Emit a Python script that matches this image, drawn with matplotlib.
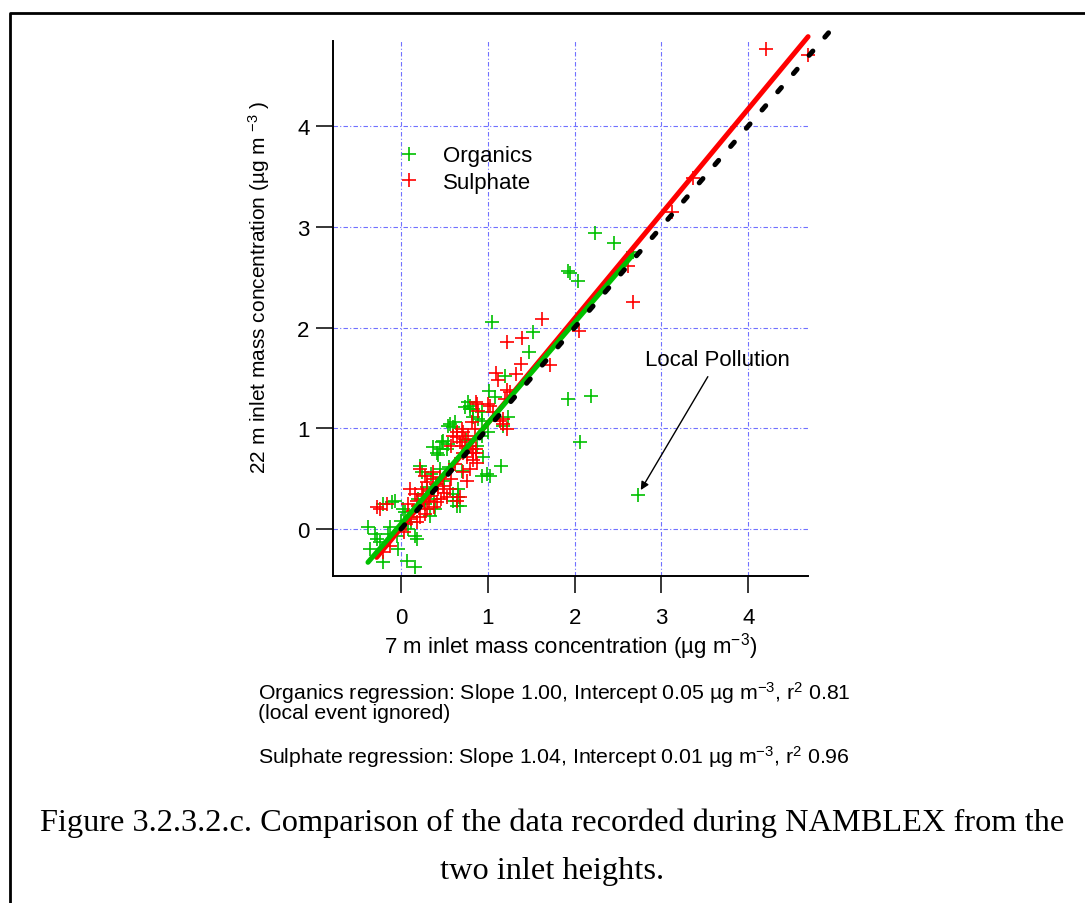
import numpy as np
import matplotlib.pyplot as plt
from matplotlib.lines import Line2D

# 7 m inlet (x) vs 22 m inlet (y), ug m-3
org_x = [2.23, 2.45, 1.92, 1.95, 2.04, 2.67, 1.05, 1.52, 1.47, 1.92, 2.19, 1.20, 2.06,
         1.01, 1.08, 0.80, 0.83, 0.77, 0.79, 0.74, 0.93, 0.89, 0.83, 0.93, 1.23, 1.18,
         0.56, 0.62, 0.54, 0.60, 1.00, 0.93, 0.48, 0.54, 0.45, 0.43, 0.94, 0.88, 1.15,
         0.93, 1.03, 0.99, 0.66, 0.60, 0.68,
         -0.38, -0.30, -0.28, -0.24, -0.21, -0.03, 0.07, 0.16, -0.10, -0.07, -0.21, 0.02,
         0.05, 0.16, 0.18, 0.08, 0.22, 0.24, 0.37, 0.41, 0.47, 0.53, 0.66, 0.64, 0.60,
         0.39, 0.33, 0.12, -0.13, -0.05, -0.36, 0.25, 0.30, 0.20, 0.35, 0.45, 0.50, 0.55,
         0.28, 0.10, 0.00, -0.15, 0.70, 0.75, 0.38, 0.43]
org_y = [2.94, 2.84, 2.56, 2.54, 2.46, 2.75, 2.06, 1.96, 1.76, 1.29, 1.32, 1.52, 0.86,
         1.37, 1.31, 1.22, 1.19, 1.26, 1.19, 1.21, 1.16, 1.09, 1.11, 1.07, 1.11, 1.02,
         1.04, 1.06, 1.02, 1.01, 0.96, 0.92, 0.87, 0.84, 0.79, 0.74, 0.72, 0.82, 0.63,
         0.53, 0.53, 0.55, 0.40, 0.35, 0.23,
         0.02, -0.05, -0.10, -0.13, -0.33, -0.20, -0.32, -0.38, 0.27, 0.28, 0.25, 0.20,
         0.17, -0.07, -0.10, 0.00, 0.63, 0.57, 0.81, 0.76, 0.86, 0.79, 0.32, 0.23, 0.28,
         0.20, 0.13, 0.07, 0.02, -0.07, -0.20, 0.35, 0.42, 0.30, 0.55, 0.60, 0.48, 0.62,
         0.25, 0.12, 0.08, -0.05, 0.58, 0.88, 0.30, 0.45]
local_x, local_y = 2.73, 0.34   # local pollution event

sul_x = [4.20, 4.69, 3.36, 3.12, 2.67, 2.61, 1.63, 1.39, 1.22, 2.05, 1.38, 1.72, 1.32,
         1.10, 1.12,
         1.22, 0.87, 1.00, 1.26, 1.20, 1.03, 1.06, 0.88, 0.89, 1.18, 1.14, 1.22, 1.18,
         0.82, 0.85, 0.72, 0.64, 0.74, 0.68, 0.80, 0.83, 0.76, 0.88, 0.60, 0.58, 0.70,
         0.77, 0.64, 0.70, 0.87,
         -0.28, -0.24, -0.16, 0.22, 0.28, 0.10, 0.16, 0.24, 0.30, 0.37, 0.43, 0.49, 0.33,
         0.26, 0.20, 0.30, 0.41, 0.53, 0.64, 0.68, 0.76, 0.72, 0.80, 0.83, 0.87, 0.82,
         0.72, 0.18, 0.12, 0.03, -0.13, -0.21, 0.28, 0.56, 0.37, 0.14, 0.22, 0.35, 0.45,
         0.50, 0.40, 0.32, 0.06, 0.25, 0.46, 0.58, 0.62, 0.18, 0.38, 0.08]
sul_y = [4.76, 4.71, 3.48, 3.15, 2.25, 2.61, 2.09, 1.90, 1.86, 1.97, 1.64, 1.63, 1.54,
         1.55, 1.48,
         1.38, 1.26, 1.24, 1.36, 1.29, 1.22, 1.16, 1.24, 1.17, 1.04, 1.07, 0.99, 1.09,
         1.06, 0.99, 0.96, 0.96, 0.89, 0.86, 0.82, 0.76, 0.72, 0.66, 0.92, 0.82, 0.99,
         0.92, 0.91, 0.82, 0.79,
         0.22, 0.20, 0.25, 0.60, 0.53, 0.40, 0.35, 0.40, 0.47, 0.50, 0.40, 0.43, 0.33,
         0.27, 0.23, 0.20, 0.27, 0.32, 0.28, 0.32, 0.48, 0.57, 0.60, 0.69, 0.76, 0.79,
         0.76, 0.07, 0.10, -0.03, -0.17, -0.23, 0.15, 0.40, 0.57, 0.18, 0.12, 0.38, 0.52,
         0.36, 0.45, 0.28, 0.05, 0.33, 0.30, 0.50, 0.65, 0.28, 0.22, 0.25]

ORG_FIT = (1.00, 0.05)   # slope, intercept (local event ignored)
SUL_FIT = (1.04, 0.01)
ONE_TO_ONE = [0, 5]

GREEN = "#00c000"
RED = "#ff0000"
GRID_C = "#7070ff"

plt.rcParams.update({
    "font.family": ["Liberation Sans", "DejaVu Sans"],
    "mathtext.fontset": "custom",
    "mathtext.rm": "Liberation Sans",
    "mathtext.it": "Liberation Sans:italic",
    "mathtext.default": "regular",
    "font.size": 16,
})

fig = plt.figure(figsize=(10.85, 9.04), dpi=100)
ax = fig.add_axes([0.3069, 0.3617, 0.4378, 0.5918])

ax.plot(org_x + [local_x], org_y + [local_y], "+", color=GREEN, ms=10, mew=1.2,
        clip_on=False, label="Organics")
ax.plot(sul_x, sul_y, "+", color=RED, ms=10, mew=1.2, clip_on=False, label="Sulphate")

sx = np.array([min(sul_x), max(sul_x)])
ax.plot(sx, SUL_FIT[0] * sx + SUL_FIT[1], color=RED, lw=3.6, solid_capstyle="round",
        clip_on=False)
ox = np.array([min(org_x), max(org_x)])
ax.plot(ox, ORG_FIT[0] * ox + ORG_FIT[1], color=GREEN, lw=3.6, solid_capstyle="round",
        clip_on=False)
ax.plot(ONE_TO_ONE, ONE_TO_ONE, color="black", lw=3.6, ls=(0, (1.14, 3.67)),
        dash_capstyle="round", clip_on=False)

ax.set_xlim(-0.783, 4.689)
ax.set_ylim(-0.466, 4.844)
ax.set_xticks([0, 1, 2, 3, 4])
ax.set_yticks([0, 1, 2, 3, 4])
ax.grid(True, color=GRID_C, lw=0.8, ls=(0, (4, 2, 1, 2)))
ax.set_axisbelow(True)
for s in ["top", "right"]:
    ax.spines[s].set_visible(False)
for s in ["left", "bottom"]:
    ax.spines[s].set_linewidth(1.4)
ax.tick_params(axis="both", direction="out", length=12, width=1.1, labelsize=16)
ax.tick_params(axis="x", pad=10)
ax.tick_params(axis="y", pad=5)

ax.set_xlabel(r"7 m inlet mass concentration (µg m$^{-3}$)", fontsize=16, labelpad=2)
ax.set_ylabel(r"22 m inlet mass concentration (µg m $^{-3}$ )", fontsize=15)
ax.yaxis.set_label_coords(-0.128, 0.542)

ax.legend(loc="upper left", bbox_to_anchor=(0.3484, 0.848), bbox_transform=fig.transFigure,
          frameon=False, numpoints=1, fontsize=16, labelspacing=0.24, borderaxespad=0,
          handlelength=2.0, handletextpad=0.53)

ax.annotate("Local Pollution", xy=(local_x, local_y), xytext=(3.65, 1.68),
            ha="center", va="center", fontsize=16,
            arrowprops=dict(arrowstyle="-|>", color="black", lw=1.0,
                            shrinkA=3, shrinkB=4, mutation_scale=12))

fig.text(0.2378, 0.2335,
         r"Organics regression: Slope 1.00, Intercept 0.05 µg m$^{-3}$, r$^{2}$ 0.81",
         fontsize=15.3, va="center")
fig.text(0.2378, 0.2103, "(local event ignored)", fontsize=15.3, va="center")
fig.text(0.2378, 0.1630,
         r"Sulphate regression: Slope 1.04, Intercept 0.01 µg m$^{-3}$, r$^{2}$ 0.96",
         fontsize=15.3, va="center")

fig.text(0.5088, 0.0896,
         "Figure 3.2.3.2.c. Comparison of the data recorded during NAMBLEX from the",
         family="Liberation Serif", fontsize=23.3, ha="center", va="center")
fig.text(0.5088, 0.0354, "two inlet heights.", family="Liberation Serif", fontsize=23.3,
         ha="center", va="center")

# page border (left and top)
fig.add_artist(Line2D([10 / 1085, 10 / 1085, 1.0], [0.0, 1 - 14 / 904, 1 - 14 / 904],
                      transform=fig.transFigure, color="black", lw=2))

fig.savefig("out.png", dpi=100)
